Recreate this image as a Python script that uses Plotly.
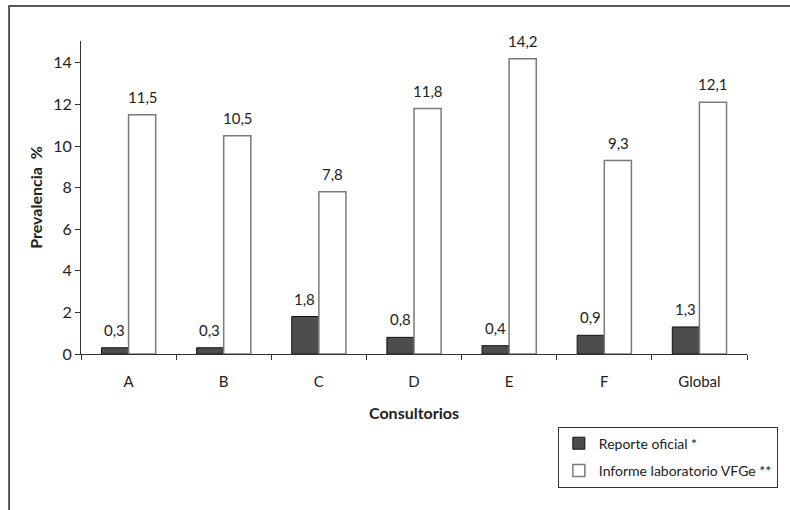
import plotly.graph_objects as go

categories = ["A", "B", "C", "D", "E", "F", "Global"]
reporte_oficial = [0.3, 0.3, 1.8, 0.8, 0.4, 0.9, 1.3]
informe_lab = [11.5, 10.5, 7.8, 11.8, 14.2, 9.3, 12.1]
y_ticks = [0, 2, 4, 6, 8, 10, 12, 14]

FONT = "Lato, 'Open Sans', sans-serif"
TXT = "#222222"

fig = go.Figure()
fig.add_trace(go.Bar(
    x=categories, y=reporte_oficial, name="Reporte oficial *", legendgroup="ro",
    marker=dict(color="#4d4d4d", line=dict(color="#111111", width=1)),
))
fig.add_trace(go.Bar(
    x=categories, y=informe_lab, name="Informe laboratorio VFGe **", legendgroup="il",
    marker=dict(color="#ffffff", line=dict(color="#7a7a7a", width=1.5)),
))

# value labels above each bar
for series, shift in ((reporte_oficial, -14), (informe_lab, 14)):
    for cat, val in zip(categories, series):
        fig.add_annotation(
            x=cat, y=val, xshift=shift, yshift=7,
            text=f"{val:.1f}".replace(".", ","),
            showarrow=False, yanchor="bottom",
            font=dict(family=FONT, size=15, color=TXT),
        )

# outer frame
fig.add_shape(type="rect", xref="paper", yref="paper",
              x0=-0.108, x1=1.2, y0=-1.0, y1=1.112,
              line=dict(color="#222222", width=1.5), fillcolor="rgba(0,0,0,0)")

fig.update_layout(
    width=790, height=510,
    margin=dict(l=81, r=37, t=41, b=156),
    paper_bgcolor="white", plot_bgcolor="white",
    barmode="group", bargap=0.43, bargroupgap=0,
    font=dict(family=FONT, size=15, color=TXT),
    showlegend=True,
    legend=dict(
        x=0.716, y=-0.232, xanchor="left", yanchor="top",
        bordercolor="#333333", borderwidth=1,
        font=dict(family=FONT, size=14, color=TXT),
        itemwidth=30, tracegroupgap=6,
    ),
    xaxis=dict(
        showline=True, linecolor="#333333", linewidth=1.2,
        ticks="outside", ticklen=5, tickcolor="#333333",
        tickson="boundaries", ticklabelstandoff=14,
        tickfont=dict(family=FONT, size=15, color=TXT),
        title=dict(text="<b>Consultorios</b>", standoff=18,
                   font=dict(family=FONT, size=16, color=TXT)),
    ),
    yaxis=dict(
        range=[0, 15.05], tickvals=y_ticks,
        showline=True, linecolor="#333333", linewidth=1.2,
        ticks="outside", ticklen=5, tickcolor="#333333",
        showgrid=False, zeroline=False,
        tickfont=dict(family=FONT, size=16, color=TXT),
        title=dict(text="<b>Prevalencia  %</b>", standoff=6,
                   font=dict(family=FONT, size=16, color=TXT)),
    ),
)

fig.write_html("out.html")
